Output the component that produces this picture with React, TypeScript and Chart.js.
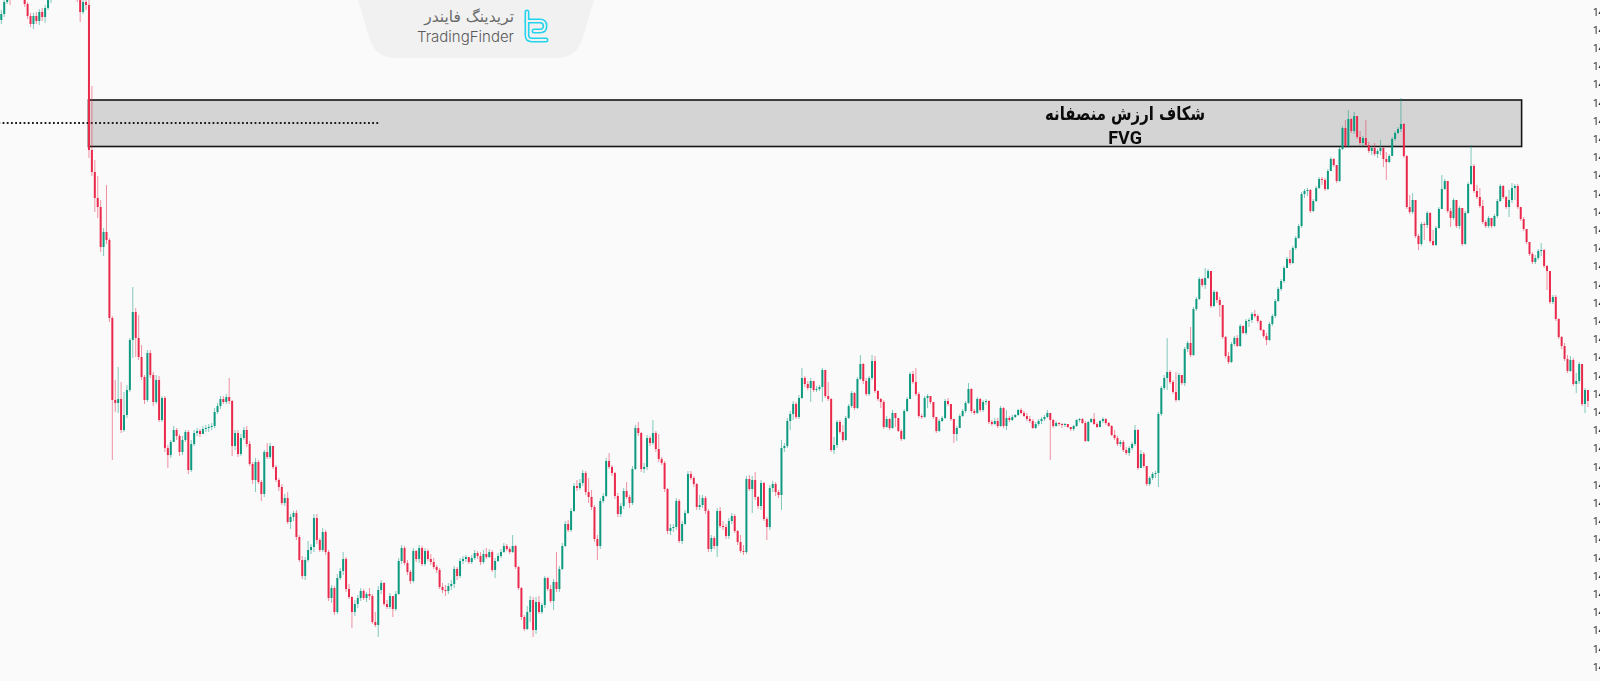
import React, { useEffect, useRef } from "react";
import { Chart, registerables } from "chart.js";

Chart.register(...registerables);

// ---------- DATA (prices) ----------
const firstOpen = 1498.0;

const closes = [
  1498.6,
  1499.8,1500.3,1500.2,1501.0,1501.5,1501.2,1500.5,1499.6,1498.4,1497.6,
  1498.4,1497.9,1498.8,1498.3,1499.2,1500.0,1500.5,1501.2,1501.8,1501.5,
  1502.2,1501.8,1501.2,1501.5,1500.8,1500.4,1498.8,1499.8,1499.5,1485.0,
  1482.8,1480.2,1479.3,1475.3,1476.8,1476.0,1468.2,1460.0,1459.7,1460.1,
  1457.0,1458.5,1461.0,1466.0,1468.8,1466.2,1464.3,1462.3,1460.0,1464.7,
  1462.5,1459.8,1462.0,1458.0,1460.2,1455.2,1454.5,1455.8,1457.0,1456.4,
  1454.8,1456.0,1456.8,1453.0,1455.6,1456.7,1456.9,1456.6,1457.1,1457.2,
  1457.3,1457.4,1458.8,1459.4,1460.1,1459.8,1460.3,1459.9,1455.4,1456.7,
  1454.6,1456.2,1457.0,1455.6,1453.6,1452.0,1453.8,1451.8,1450.6,1454.8,
  1454.3,1455.4,1453.3,1452.0,1451.3,1449.7,1450.2,1447.8,1448.3,1448.7,
  1446.3,1444.0,1442.4,1444.0,1445.0,1445.3,1448.2,1446.0,1445.0,1446.8,
  1444.8,1440.2,1441.2,1438.8,1442.2,1442.9,1444.1,1441.1,1440.3,1438.8,
  1439.6,1440.2,1440.9,1440.2,1440.6,1440.4,1437.8,1437.5,1441.0,1441.7,
  1439.6,1439.3,1440.4,1439.1,1440.6,1443.9,1445.2,1443.7,1442.8,1441.9,
  1444.9,1444.1,1445.2,1443.6,1444.9,1444.1,1443.8,1443.3,1443.0,1441.3,
  1441.0,1440.9,1441.4,1441.6,1443.1,1442.4,1443.9,1444.1,1444.3,1443.8,
  1444.2,1444.7,1444.4,1443.8,1444.6,1444.3,1444.8,1443.0,1443.9,1444.4,
  1444.8,1445.4,1445.1,1444.8,1445.4,1443.3,1441.2,1438.3,1437.1,1438.8,
  1440.0,1437.0,1439.8,1438.8,1439.5,1442.2,1441.1,1439.9,1441.8,1441.1,
  1443.1,1445.4,1447.6,1447.0,1448.9,1451.4,1451.2,1451.7,1452.7,1450.8,
  1450.3,1449.3,1446.1,1445.4,1449.9,1450.4,1453.9,1453.3,1452.7,1450.4,
  1448.6,1449.4,1450.9,1450.3,1449.7,1453.1,1457.2,1456.7,1453.1,1453.3,
  1456.2,1455.7,1456.7,1455.1,1454.1,1453.7,1451.1,1446.9,1447.2,1447.3,
  1449.9,1445.9,1447.6,1448.7,1452.6,1452.2,1451.6,1449.3,1449.5,1450.2,
  1448.9,1445.1,1446.2,1445.4,1448.9,1447.4,1447.3,1446.4,1447.9,1448.4,
  1446.9,1445.8,1444.9,1444.8,1452.1,1451.1,1452.0,1450.3,1449.4,1451.7,
  1448.1,1447.3,1451.2,1451.6,1450.8,1450.5,1455.2,1455.4,1457.9,1458.6,
  1459.6,1458.3,1460.2,1462.2,1461.6,1461.2,1461.9,1461.0,1461.1,1461.3,
  1463.0,1460.4,1460.1,1455.0,1455.5,1457.8,1456.8,1456.0,1458.2,1459.4,
  1460.7,1459.2,1462.1,1463.6,1461.9,1460.6,1462.2,1463.9,1460.9,1460.1,
  1459.8,1457.3,1458.1,1457.2,1458.7,1458.2,1456.9,1456.1,1458.9,1460.1,
  1462.6,1461.8,1460.6,1458.4,1458.3,1460.2,1460.4,1459.8,1458.3,1456.9,
  1457.9,1458.2,1459.9,1459.6,1458.1,1456.6,1457.2,1458.4,1458.9,1459.7,
  1461.1,1458.9,1458.7,1460.1,1459.0,1459.8,1459.9,1457.8,1457.6,1457.9,
  1457.4,1459.2,1457.4,1458.2,1458.0,1458.3,1458.5,1459.0,1458.7,1458.4,
  1458.1,1457.9,1457.2,1457.6,1457.9,1458.1,1458.3,1458.7,1458.0,1457.4,
  1457.7,1457.6,1457.5,1457.6,1457.3,1457.1,1457.4,1458.0,1458.1,1457.7,
  1455.9,1457.8,1458.1,1457.6,1457.3,1457.9,1458.1,1457.7,1457.4,1456.5,
  1456.2,1455.6,1455.8,1455.0,1454.7,1455.2,1455.6,1457.0,1453.2,1454.6,
  1453.4,1451.6,1452.2,1452.6,1452.7,1458.6,1461.2,1462.2,1462.8,1461.8,
  1460.8,1460.0,1462.5,1461.7,1465.1,1465.7,1464.5,1469.1,1470.1,1472.1,
  1471.5,1472.2,1472.9,1469.4,1470.8,1470.0,1469.5,
  1466.3,1464.4,1463.8,1465.6,1466.2,1465.4,1467.4,1466.7,1467.9,1468.0,
  1468.6,1468.4,1467.9,1467.0,1466.4,1466.0,1467.6,1468.4,1469.9,1471.1,
  1471.9,1473.2,1474.1,1473.7,1475.2,1476.2,1477.4,1480.6,1480.9,
  1481.0,1478.9,1479.9,1481.2,1482.1,
  1482.0,1481.1,1482.9,1484.1,1483.5,1481.9,1485.1,1487.2,1485.4,1488.1,
  1486.9,1488.4,1486.3,1485.7,1486.2,1485.5,1484.9,1485.2,1484.6,1484.9,
  1485.2,1484.1,1483.8,1484.4,
  1486.1,1486.7,1487.1,1487.6,1484.4,1479.3,1478.8,1480.0,1476.4,1475.6,
  1477.6,1477.5,1478.7,1475.9,1475.5,1477.2,1479.1,1481.1,1481.9,1478.9,
  1478.2,1480.0,1477.4,1479.2,1475.6,1478.7,1481.6,1483.4,1480.9,1480.3,
  1479.4,1477.8,1477.4,1478.2,1477.4,1478.4,1479.9,1481.4,1480.3,1479.3,
  1480.0,1481.2,1481.4,1479.3,1478.1,1477.1,1475.8,1474.6,1473.8,1474.2,
  1474.9,1475.0,1473.4,1472.9,1469.8,1470.3,
  1468.1,1466.3,1465.4,1464.1,1462.9,1464.0,1461.6,1461.9,1463.6,1459.6,
  1461.0,1459.9,
];

const highs = [
  1499.0,
  1500.5,1500.8,1500.6,1501.4,1502.0,1501.9,1501.4,1500.7,1499.8,1498.7,
  1498.7,1498.8,1499.1,1499.2,1499.5,1500.3,1501.0,1501.6,1502.2,1502.1,
  1502.6,1502.5,1502.0,1501.8,1501.7,1501.0,1500.6,1500.3,1500.4,1500.0,
  1491.4,1484.0,1482.4,1480.0,1477.2,1481.5,1476.2,1468.4,1462.0,1463.3,
  1461.8,1460.8,1461.5,1466.2,1471.3,1469.2,1468.5,1465.5,1462.5,1465.0,
  1465.0,1462.8,1462.5,1462.4,1460.4,1460.4,1455.5,1456.0,1457.4,1457.2,
  1456.6,1456.4,1457.0,1457.0,1456.0,1457.0,1457.2,1457.1,1457.4,1457.5,
  1457.6,1457.7,1459.2,1459.7,1460.4,1460.4,1460.6,1462.2,1460.0,1457.0,
  1457.0,1456.6,1457.3,1457.4,1455.9,1453.8,1454.2,1454.0,1452.0,1455.0,
  1455.7,1455.7,1455.4,1453.5,1452.2,1451.6,1450.6,1450.8,1448.6,1448.9,
  1449.0,1446.5,1444.4,1444.3,1445.9,1445.6,1448.6,1448.6,1446.2,1447.2,
  1447.0,1445.0,1441.5,1441.4,1442.6,1443.2,1444.8,1444.3,1441.6,1440.4,
  1440.0,1440.5,1441.2,1441.1,1440.8,1441.2,1440.6,1438.8,1441.4,1442.0,
  1441.8,1440.0,1440.7,1440.4,1440.9,1444.2,1445.5,1445.4,1444.0,1443.0,
  1445.2,1445.0,1445.5,1445.4,1445.2,1445.1,1444.6,1444.2,1443.5,1443.2,
  1441.7,1441.5,1441.7,1442.0,1443.4,1443.3,1444.2,1444.4,1444.5,1444.3,
  1444.5,1445.0,1444.9,1444.8,1445.0,1445.2,1445.1,1445.0,1444.2,1444.7,
  1445.1,1445.7,1445.6,1445.3,1446.5,1445.5,1443.4,1441.3,1438.5,1439.4,
  1440.4,1440.3,1440.3,1440.4,1439.7,1442.4,1442.3,1441.5,1442.1,1444.8,
  1443.4,1445.7,1447.9,1448.0,1449.2,1451.7,1452.0,1452.1,1453.0,1452.9,
  1452.2,1451.0,1449.5,1446.5,1450.2,1450.7,1454.2,1454.7,1453.5,1452.8,
  1450.7,1449.7,1451.2,1451.8,1450.5,1453.4,1457.5,1457.8,1456.8,1453.7,
  1456.5,1456.4,1458.0,1456.9,1456.6,1454.3,1453.9,1451.2,1447.6,1447.6,
  1450.2,1450.1,1447.9,1449.0,1452.9,1452.9,1452.4,1451.7,1450.5,1450.5,
  1450.4,1449.1,1446.5,1446.4,1449.2,1449.3,1447.9,1447.6,1448.2,1448.7,
  1448.6,1447.0,1446.5,1445.5,1452.4,1452.5,1452.4,1452.8,1450.4,1452.0,
  1451.8,1448.3,1451.5,1451.9,1451.8,1451.0,1456.0,1455.7,1458.2,1458.9,
  1459.9,1459.8,1460.5,1463.2,1462.4,1461.9,1462.2,1461.7,1461.4,1461.5,
  1463.2,1463.0,1461.8,1460.2,1456.3,1458.0,1458.0,1457.5,1458.4,1459.6,
  1460.9,1460.8,1462.3,1464.5,1463.7,1462.2,1462.4,1464.5,1464.4,1461.0,
  1460.2,1460.0,1458.4,1458.2,1459.0,1458.6,1458.2,1457.1,1459.1,1460.3,
  1462.8,1462.9,1463.2,1460.8,1458.6,1460.4,1460.6,1460.4,1459.8,1458.3,
  1458.1,1458.4,1460.1,1460.2,1459.6,1458.1,1457.4,1458.6,1459.1,1459.9,
  1461.7,1461.2,1459.1,1460.3,1460.2,1460.0,1460.1,1460.0,1458.0,1458.2,
  1458.2,1459.4,1459.3,1459.0,1458.4,1458.5,1458.6,1459.1,1459.2,1458.9,
  1458.7,1458.4,1458.1,1457.8,1458.1,1458.3,1458.5,1459.0,1458.7,1458.1,
  1457.9,1457.8,1457.7,1457.7,1457.6,1457.3,1457.5,1458.1,1458.2,1458.2,
  1457.9,1457.9,1458.2,1458.7,1457.8,1458.0,1458.3,1458.2,1457.8,1457.5,
  1457.0,1456.4,1456.0,1456.0,1455.3,1455.4,1455.8,1457.5,1457.1,1455.0,
  1454.8,1453.4,1452.4,1452.8,1452.9,1458.8,1461.4,1462.5,1466.2,1463.0,
  1462.0,1462.8,1462.7,1462.5,1465.3,1465.9,1467.3,1469.3,1470.3,1472.3,
  1472.2,1473.2,1473.1,1472.9,1471.0,1470.9,1470.3,
  1469.5,1466.4,1464.8,1465.8,1466.4,1466.5,1467.6,1467.5,1468.1,1468.2,
  1468.8,1469.0,1468.6,1468.0,1467.1,1466.7,1467.8,1468.6,1470.1,1471.3,
  1472.1,1473.4,1474.3,1475.0,1475.4,1476.4,1477.6,1480.8,1481.1,
  1481.2,1481.1,1480.1,1481.4,1482.3,
  1482.3,1482.2,1483.1,1484.3,1484.2,1483.5,1485.3,1487.4,1488.0,1489.0,
  1488.2,1488.8,1488.4,1486.9,1486.4,1488.0,1485.8,1485.4,1485.7,1485.1,
  1486.0,1485.3,1484.8,1484.6,
  1486.3,1486.9,1487.3,1490.2,1487.7,1484.5,1480.5,1480.7,1480.0,1476.6,
  1477.8,1477.8,1478.9,1478.8,1477.0,1477.4,1479.3,1482.5,1482.1,1481.8,
  1479.2,1480.2,1480.0,1479.4,1479.2,1478.9,1481.8,1485.5,1483.6,1481.5,
  1481.2,1480.0,1478.0,1478.4,1478.2,1478.6,1480.1,1481.6,1481.5,1480.4,
  1481.0,1481.7,1481.6,1481.6,1479.3,1478.3,1477.1,1475.8,1474.8,1474.5,
  1475.1,1475.7,1475.1,1473.5,1472.9,1470.5,
  1470.5,1468.2,1466.4,1465.7,1464.5,1464.4,1464.2,1462.7,1463.8,1463.6,
  1461.2,1461.0,
];

const lows = [
  1497.6,
  1498.3,1499.6,1499.5,1500.1,1500.8,1500.9,1500.2,1499.3,1498.1,1497.3,
  1497.1,1497.6,1497.5,1497.9,1497.7,1499.0,1499.7,1500.2,1501.0,1501.2,
  1501.4,1501.5,1501.0,1500.9,1500.6,1499.8,1497.8,1498.6,1499.0,1484.2,
  1482.4,1478.8,1478.2,1474.8,1474.4,1475.6,1467.8,1454.0,1458.8,1458.7,
  1456.7,1456.8,1458.2,1460.8,1464.2,1464.3,1464.0,1462.0,1459.6,1459.8,
  1462.2,1459.4,1459.6,1457.8,1457.8,1454.8,1453.2,1454.2,1455.8,1456.0,
  1454.4,1454.5,1455.8,1452.6,1452.8,1455.4,1456.4,1456.3,1456.6,1456.8,
  1456.8,1457.0,1457.2,1458.6,1459.1,1459.6,1459.6,1459.6,1454.4,1455.0,
  1454.3,1454.4,1456.0,1455.3,1453.4,1451.6,1450.8,1451.6,1449.9,1450.3,
  1454.1,1454.1,1453.1,1451.8,1450.9,1449.5,1449.4,1447.6,1447.1,1447.9,
  1446.0,1443.8,1442.1,1442.0,1443.8,1444.6,1444.8,1445.6,1444.8,1444.8,
  1444.5,1439.9,1439.7,1438.5,1438.6,1442.0,1442.5,1440.8,1440.1,1437.2,
  1438.4,1439.2,1439.9,1440.0,1439.8,1440.0,1437.6,1437.3,1436.3,1440.6,
  1439.4,1439.1,1439.1,1438.3,1438.9,1440.5,1443.6,1443.5,1442.5,1441.6,
  1441.7,1443.8,1443.7,1443.4,1443.4,1443.9,1443.5,1443.1,1442.7,1441.1,
  1440.7,1440.4,1440.6,1441.0,1441.2,1442.0,1442.2,1443.6,1443.8,1443.6,
  1443.6,1444.0,1444.1,1443.5,1443.6,1444.1,1444.2,1442.8,1442.2,1443.8,
  1444.2,1444.7,1444.9,1444.6,1444.7,1443.1,1441.0,1438.0,1436.9,1437.0,
  1437.8,1436.3,1436.6,1438.6,1438.6,1439.2,1440.9,1439.7,1439.0,1440.8,
  1440.8,1443.0,1445.3,1446.8,1446.8,1448.8,1450.9,1451.0,1451.4,1450.5,
  1449.7,1449.0,1445.8,1444.0,1445.1,1449.7,1450.3,1453.1,1452.4,1450.1,
  1448.3,1448.3,1449.1,1450.1,1449.2,1449.5,1453.0,1456.4,1452.8,1452.7,
  1453.0,1455.4,1455.5,1454.8,1453.8,1453.5,1450.8,1446.6,1446.5,1446.8,
  1447.0,1445.7,1445.6,1447.5,1448.6,1452.0,1451.3,1449.0,1449.0,1449.2,
  1448.6,1444.8,1444.8,1445.1,1444.3,1447.2,1447.0,1446.1,1446.1,1447.6,
  1446.7,1445.5,1444.7,1444.5,1444.6,1450.9,1448.7,1450.0,1449.1,1449.0,
  1447.9,1446.0,1447.0,1450.8,1450.4,1450.2,1449.0,1454.8,1455.2,1457.0,
  1458.0,1458.1,1458.1,1460.1,1461.3,1461.0,1459.8,1460.8,1460.8,1460.9,
  1459.8,1460.2,1459.9,1454.8,1454.6,1455.2,1456.6,1455.8,1455.9,1458.1,
  1459.2,1459.0,1459.1,1462.0,1461.6,1460.4,1460.4,1462.0,1460.7,1459.9,
  1459.2,1457.1,1457.2,1457.0,1457.1,1457.3,1456.8,1455.9,1456.0,1458.8,
  1460.1,1461.6,1460.4,1458.2,1458.1,1458.2,1459.2,1459.6,1458.1,1456.7,
  1456.8,1457.8,1458.1,1459.4,1457.9,1455.7,1455.9,1457.2,1458.3,1458.7,
  1459.6,1458.7,1458.5,1458.6,1458.8,1458.8,1459.5,1457.6,1457.4,1457.5,
  1457.2,1457.3,1457.2,1457.0,1457.8,1457.9,1458.2,1458.4,1458.6,1458.3,
  1457.9,1457.7,1457.1,1457.1,1457.4,1457.6,1457.9,1458.2,1454.0,1457.2,
  1457.3,1457.4,1457.2,1457.3,1457.2,1456.9,1456.9,1457.3,1457.8,1457.6,
  1455.8,1455.8,1457.7,1457.5,1457.2,1457.4,1457.7,1457.5,1457.3,1456.4,
  1456.0,1455.4,1455.3,1454.8,1454.5,1454.4,1455.0,1455.4,1453.0,1453.6,
  1453.2,1451.4,1451.4,1452.0,1452.2,1451.3,1458.4,1461.0,1461.0,1461.6,
  1460.6,1459.8,1459.9,1461.5,1461.4,1464.8,1464.3,1464.4,1468.9,1470.0,
  1471.3,1471.1,1472.1,1469.2,1469.3,1469.7,1468.3,
  1466.1,1464.2,1463.6,1463.7,1465.4,1465.3,1465.3,1466.6,1466.5,1467.3,
  1467.7,1468.2,1467.7,1466.9,1466.2,1465.5,1465.9,1467.4,1468.2,1469.8,
  1470.9,1471.7,1473.2,1473.5,1473.6,1475.0,1476.1,1477.2,1480.2,
  1480.4,1478.7,1478.8,1479.8,1481.1,
  1481.5,1480.9,1481.0,1482.9,1483.3,1481.7,1481.8,1485.0,1485.2,1485.2,
  1486.7,1486.6,1486.1,1485.5,1485.4,1485.4,1484.7,1484.5,1484.4,1484.2,
  1484.5,1483.3,1482.0,1483.7,
  1484.7,1485.9,1486.6,1486.8,1484.2,1479.1,1478.6,1478.6,1476.2,1475.0,
  1475.4,1476.0,1477.2,1475.7,1475.4,1475.4,1477.1,1479.1,1481.0,1478.7,
  1477.3,1478.0,1477.2,1477.1,1475.4,1475.5,1478.6,1481.5,1480.7,1480.1,
  1479.2,1477.6,1477.2,1477.2,1477.2,1477.3,1478.2,1479.8,1480.1,1479.1,
  1478.3,1479.7,1480.0,1479.1,1477.9,1476.9,1475.6,1474.4,1473.6,1473.6,
  1474.0,1474.4,1473.2,1471.0,1469.6,1469.6,
  1467.9,1466.1,1465.1,1463.9,1462.7,1462.8,1461.4,1460.7,1461.6,1459.4,
  1458.7,1459.3,
];

const priceTicks = [
  1498.70,1496.88,1495.06,1493.24,1491.42,1489.60,1487.78,1485.96,1484.14,1482.32,
  1480.50,1478.68,1476.86,1475.04,1473.22,1471.40,1469.58,1467.76,1465.94,1464.12,
  1462.30,1460.48,1458.66,1456.84,1455.02,1453.20,1451.38,1449.56,1447.74,1445.92,
  1444.10,1442.28,1440.46,1438.64,1436.82,1435.00,1433.18,
];

// FVG zone (candle index range, price range)
const fvgStartIndex = 29.84;
const fvgEndIndex = 520.3;
const fvgUpper = 1490.0;
const fvgLower = 1485.35;
const fvgMidLevel = 1487.7;
const fvgMidEndIndex = 129.6;
const fvgLabelIndex = 384.6;
const fvgLabelFaPrice = 1488.5;
const fvgLabelEnPrice = 1486.1;
const fvgLabelFa = "شکاف ارزش منصفانه";
const fvgLabelEn = "FVG";

const brandFa = "تریدینگ فایندر";
const brandEn = "TradingFinder";

// ---------- STYLE ----------
const BULL = "#0e9a81";
const BEAR = "#ea2a4c";
const BULL_WICK = "rgba(14,154,129,0.5)";
const BEAR_WICK = "rgba(234,42,76,0.5)";

const fvgPlugin = {
  id: "fvgZone",
  beforeDatasetsDraw(chart: any) {
    const { ctx, scales } = chart;
    const xs = scales.x;
    const ys = scales.y;
    const left = xs.getPixelForValue(fvgStartIndex);
    const right = xs.getPixelForValue(fvgEndIndex);
    const top = ys.getPixelForValue(fvgUpper);
    const bottom = ys.getPixelForValue(fvgLower);
    ctx.save();
    ctx.fillStyle = "#d4d4d4";
    ctx.fillRect(left, top, right - left, bottom - top);
    ctx.lineWidth = 1.6;
    ctx.strokeStyle = "#151515";
    ctx.strokeRect(left, top, right - left, bottom - top);
    const midY = ys.getPixelForValue(fvgMidLevel);
    ctx.beginPath();
    ctx.setLineDash([1.8, 2.4]);
    ctx.lineWidth = 1.8;
    ctx.strokeStyle = "#1a1a1a";
    ctx.moveTo(xs.getPixelForValue(-1), midY);
    ctx.lineTo(xs.getPixelForValue(fvgMidEndIndex), midY);
    ctx.stroke();
    ctx.restore();
  },
  afterDatasetsDraw(chart: any) {
    const { ctx, scales } = chart;
    const xs = scales.x;
    const ys = scales.y;
    const cx = xs.getPixelForValue(fvgLabelIndex);
    ctx.save();
    ctx.fillStyle = "#0b0b0b";
    ctx.textAlign = "center";
    ctx.textBaseline = "middle";
    ctx.direction = "rtl";
    ctx.font = 'bold 19px "DejaVu Sans"';
    ctx.fillText(fvgLabelFa, cx, ys.getPixelForValue(fvgLabelFaPrice), 160);
    ctx.direction = "ltr";
    ctx.font = "bold 18px Roboto";
    ctx.fillText(fvgLabelEn, cx, ys.getPixelForValue(fvgLabelEnPrice));
    ctx.restore();
  },
  afterDraw(chart: any) {
    // price axis labels on the right edge
    const { ctx, scales, chartArea } = chart;
    const ys = scales.y;
    ctx.save();
    ctx.font = "10px Roboto";
    ctx.fillStyle = "#2a2a2a";
    ctx.textAlign = "left";
    ctx.textBaseline = "middle";
    priceTicks.forEach((v) => {
      ctx.fillText(v.toFixed(2), chartArea.right + 1, ys.getPixelForValue(v));
    });
    ctx.restore();
  },
};

export default function App() {
  const canvasRef = useRef<HTMLCanvasElement | null>(null);

  useEffect(() => {
    const canvas = canvasRef.current;
    if (!canvas) return;
    const n = Math.min(closes.length, highs.length, lows.length);
    const opens: number[] = [];
    for (let i = 0; i < n; i++) opens.push(i === 0 ? firstOpen : closes[i - 1]);
    const bodies: any[] = [];
    const wicks: any[] = [];
    const bodyColors: string[] = [];
    const wickColors: string[] = [];
    for (let i = 0; i < n; i++) {
      const o = opens[i];
      const c = closes[i];
      const hi = Math.max(highs[i], o, c);
      const lo = Math.min(lows[i], o, c);
      bodies.push({ x: i, y: [o, c] });
      wicks.push({ x: i, y: [lo, hi] });
      const up = c >= o;
      bodyColors.push(up ? BULL : BEAR);
      wickColors.push(up ? BULL_WICK : BEAR_WICK);
    }

    const chart = new Chart(canvas, {
      type: "bar",
      data: {
        datasets: [
          {
            label: "body",
            data: bodies,
            backgroundColor: bodyColors,
            barThickness: 2,
            minBarLength: 1,
            grouped: false,
            borderWidth: 0,
            inflateAmount: 0,
            clip: 0,
          } as any,
          {
            label: "wick",
            data: wicks,
            backgroundColor: wickColors,
            barThickness: 1,
            grouped: false,
            borderWidth: 0,
            inflateAmount: 0,
            clip: 0,
          } as any,
        ],
      },
      options: {
        animation: false,
        responsive: false,
        devicePixelRatio: 1,
        layout: { padding: { left: 0, top: 0, bottom: 0, right: 68 } },
        events: [],
        plugins: {
          legend: { display: false },
          tooltip: { enabled: false },
        },
        scales: {
          x: {
            type: "linear",
            min: -0.445,
            max: n - 1 + 1.39,
            display: false,
            offset: false,
            grid: { display: false },
          },
          y: {
            type: "linear",
            position: "right",
            min: 1431.9,
            max: 1500,
            display: false,
            grid: { display: false },
          },
        },
      } as any,
      plugins: [fvgPlugin],
    });

    return () => {
      chart.destroy();
    };
  }, []);

  return (
    <div
      style={{
        position: "fixed",
        left: 0,
        top: 0,
        width: 1600,
        height: 681,
        overflow: "hidden",
        background: "#fafafa",
      }}
    >
      <svg
        width={236}
        height={60}
        style={{ position: "absolute", left: 358, top: 0 }}
      >
        <path
          d="M0 0 H236 L224 40 Q218 58 198 58 H38 Q18 58 12 40 Z"
          fill="#f1f1f1"
        />
      </svg>
      <svg
        width={28}
        height={36}
        style={{ position: "absolute", left: 522, top: 9 }}
      >
        <g fill="none" strokeLinecap="round" strokeLinejoin="round">
          <path d="M5 3 V26 Q5 31 10 31 H24" stroke="#22d3ee" strokeWidth={5} />
          <path d="M5 12 H18 Q23 12 23 17 Q23 22 18 22 H12" stroke="#22d3ee" strokeWidth={5} />
          <path d="M5 3 V26 Q5 31 10 31 H24" stroke="#f1f1f1" strokeWidth={1.8} />
          <path d="M5 12 H18 Q23 12 23 17 Q23 22 18 22 H12" stroke="#f1f1f1" strokeWidth={1.8} />
        </g>
      </svg>
      <div
        style={{
          position: "absolute",
          left: 396,
          top: 8,
          width: 118,
          textAlign: "right",
          fontFamily: '"DejaVu Sans"',
          fontSize: 15.5,
          color: "#6a6a6a",
          direction: "rtl",
          lineHeight: "18px",
          whiteSpace: "nowrap",
        }}
      >
        {brandFa}
      </div>
      <div
        style={{
          position: "absolute",
          left: 398,
          top: 28,
          width: 116,
          textAlign: "right",
          fontFamily: "Inter",
          fontWeight: 300,
          fontSize: 15,
          color: "#5a5a5a",
          lineHeight: "18px",
          whiteSpace: "nowrap",
        }}
      >
        {brandEn}
      </div>
      <canvas
        ref={canvasRef}
        width={1660}
        height={681}
        style={{ position: "absolute", left: 0, top: 0, width: 1660, height: 681 }}
      />
    </div>
  );
}
